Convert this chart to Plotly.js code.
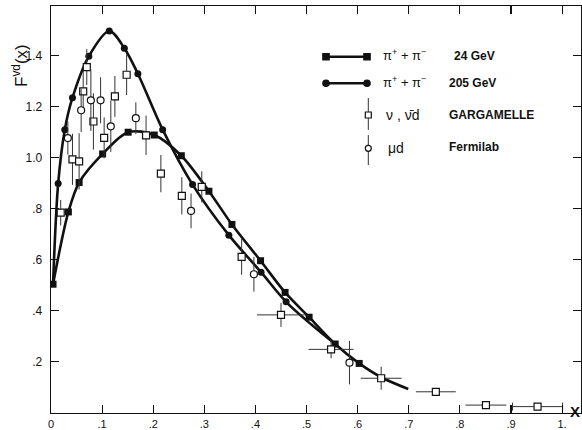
<!DOCTYPE html>
<html>
<head>
<meta charset="utf-8">
<script src="https://cdn.plot.ly/plotly-3.0.1.min.js"></script>
<style>html,body{margin:0;padding:0;background:#fff;}#chart{width:582px;height:430px;}</style>
</head>
<body>
<div id="chart"></div>
<script>
// ---- data ----
// pi+ + pi-  24 GeV (filled squares) : markers
const m24x = [0.004, 0.034, 0.055, 0.101, 0.151, 0.202, 0.255, 0.309, 0.354, 0.410, 0.458, 0.505, 0.556, 0.603];
const m24y = [0.504, 0.787, 0.902, 1.014, 1.099, 1.088, 1.007, 0.868, 0.738, 0.596, 0.472, 0.375, 0.270, 0.194];
// hand-drawn curve through the 24 GeV points
const c24x = [0.004, 0.034, 0.055, 0.101, 0.151, 0.202, 0.255, 0.309, 0.354, 0.410, 0.458, 0.505, 0.556, 0.603, 0.646, 0.699];
const c24y = [0.504, 0.787, 0.902, 1.014, 1.099, 1.088, 1.007, 0.868, 0.738, 0.596, 0.472, 0.375, 0.270, 0.194, 0.140, 0.094];
// pi+ + pi-  205 GeV (filled circles)
const m205x = [0.014, 0.027, 0.042, 0.074, 0.114, 0.1435, 0.170, 0.2185, 0.277, 0.348, 0.411, 0.460];
const m205y = [0.898, 1.109, 1.234, 1.396, 1.495, 1.428, 1.328, 1.109, 0.894, 0.696, 0.551, 0.435];
const c205x = [0.004, 0.014, 0.027, 0.042, 0.074, 0.114, 0.1435, 0.170, 0.2185, 0.277, 0.348, 0.411, 0.460, 0.510, 0.556];
const c205y = [0.504, 0.898, 1.109, 1.234, 1.396, 1.495, 1.428, 1.328, 1.109, 0.894, 0.696, 0.551, 0.435, 0.345, 0.270];
// nu, nubar d  GARGAMELLE (open squares)
const gx  = [0.019, 0.042, 0.055, 0.063, 0.070, 0.083, 0.104, 0.125, 0.148, 0.186, 0.215, 0.256, 0.295, 0.373, 0.450, 0.548, 0.646, 0.753, 0.851, 0.952];
const gy  = [0.784, 0.993, 0.985, 1.259, 1.354, 1.141, 1.077, 1.239, 1.324, 1.087, 0.937, 0.850, 0.885, 0.611, 0.384, 0.249, 0.136, 0.083, 0.031, 0.025];
const gey = [0.05, 0.10, 0.11, 0.08, 0.07, 0.11, 0.08, 0.08, 0.08, 0.077, 0.073, 0.073, 0.061, 0.07, 0.047, 0.035, 0.045, 0, 0, 0];
const gex = [0, 0, 0, 0, 0, 0, 0, 0, 0, 0, 0, 0, 0, 0, 0.047, 0.044, 0.040, 0.039, 0.040, 0.049];
// mu d  Fermilab (open circles)
const fx  = [0.033, 0.059, 0.078, 0.097, 0.117, 0.166, 0.274, 0.397, 0.584];
const fy  = [1.076, 1.185, 1.224, 1.224, 1.122, 1.154, 0.791, 0.543, 0.197];
const fey = [0.065, 0.085, 0.12, 0.09, 0.10, 0.062, 0.068, 0.068, 0.085];
// tick labels
const xTickVals = [0, 0.1, 0.2, 0.3, 0.4, 0.5, 0.6, 0.7, 0.8, 0.9, 1.0];
const xTickText = ['0', '.1', '.2', '.3', '.4', '.5', '.6', '.7', '.8', '.9', '1.'];
const yTickVals = [0.2, 0.4, 0.6, 0.8, 1.0, 1.2, 1.4];
const yTickText = ['.2', '.4', '.6', '.8', '1.0', '1.2', '1.4'];

const FONT = '"Liberation Sans", Arial, sans-serif';
const INK = '#111';
const ERR = '#333';

const nG = gx.length;
const traces = [
  {x: c24x, y: c24y, mode: 'lines', line: {color: INK, width: 2.6, shape: 'spline', smoothing: 0.9}, hoverinfo: 'skip'},
  {x: c205x, y: c205y, mode: 'lines', line: {color: INK, width: 2.6, shape: 'spline', smoothing: 0.9}, hoverinfo: 'skip'},
  {x: m24x, y: m24y, mode: 'markers', marker: {symbol: 'square', size: 7, color: INK}},
  {x: m205x, y: m205y, mode: 'markers', marker: {symbol: 'circle', size: 7, color: INK}},
  {x: gx.slice(0, nG - 1), y: gy.slice(0, nG - 1), mode: 'markers',
   marker: {symbol: 'square', size: 7, color: '#fff', line: {color: INK, width: 1.2}},
   error_y: {type: 'data', array: gey.slice(0, nG - 1), visible: true, color: ERR, thickness: 1, width: 0},
   error_x: {type: 'data', array: gex.slice(0, nG - 1), visible: true, color: ERR, thickness: 1, width: 0}},
  {x: gx.slice(nG - 1), y: gy.slice(nG - 1), mode: 'markers',
   marker: {symbol: 'square', size: 7, color: '#fff', line: {color: INK, width: 1.2}},
   error_x: {type: 'data', array: gex.slice(nG - 1), visible: true, color: ERR, thickness: 1, width: 4}},
  {x: fx, y: fy, mode: 'markers',
   marker: {symbol: 'circle', size: 7, color: '#fff', line: {color: INK, width: 1.2}},
   error_y: {type: 'data', array: fey, visible: true, color: ERR, thickness: 1, width: 0}}
];

// pixel -> paper helpers for the hand-made legend (plot area 51..581 x 6..413)
const L = 51, R = 1, T = 6, B = 17, W = 582 - L - R, H = 430 - T - B;
const P = px => (px - L) / W;
const Q = py => (430 - B - py) / H;

const shapes = [];
const annotations = [];
function hline(x0, x1, y, w) { shapes.push({type: 'line', xref: 'paper', yref: 'paper', x0: P(x0), x1: P(x1), y0: Q(y), y1: Q(y), line: {color: INK, width: w}}); }
function vline(x, y0, y1, w) { shapes.push({type: 'line', xref: 'paper', yref: 'paper', x0: P(x), x1: P(x), y0: Q(y0), y1: Q(y1), line: {color: ERR, width: w}}); }
function sq(x, y, s, fill) { shapes.push({type: 'rect', xref: 'paper', yref: 'paper', x0: P(x - s), x1: P(x + s), y0: Q(y + s), y1: Q(y - s), fillcolor: fill, line: {color: INK, width: 1.2}}); }
function ci(x, y, s, fill) { shapes.push({type: 'circle', xref: 'paper', yref: 'paper', x0: P(x - s), x1: P(x + s), y0: Q(y + s), y1: Q(y - s), fillcolor: fill, line: {color: INK, width: 1.2}}); }
function txt(x, y, t, size) { annotations.push({xref: 'paper', yref: 'paper', x: P(x), y: Q(y), text: t, showarrow: false, xanchor: 'left', yanchor: 'middle', font: {family: FONT, size: size || 13, color: INK}}); }

hline(325, 368, 56.7, 2.4); sq(326, 56.7, 3.2, INK); sq(367, 56.7, 3.2, INK);
hline(325, 368, 83.3, 2.4); ci(326, 83.3, 3.2, INK); ci(367, 83.3, 3.2, INK);
vline(368.3, 98, 130, 1); sq(368.3, 115, 3, '#fff');
vline(368.3, 135, 165, 1); ci(368.3, 148.3, 3, '#fff');
txt(381, 55, 'π<sup>+</sup> + π<sup>−</sup>', 13);
txt(452, 56, '<b>24 GeV</b>', 12);
txt(381, 82, 'π<sup>+</sup> + π<sup>−</sup>', 13);
txt(447, 82.5, '<b>205 GeV</b>', 12);
txt(384, 115, 'ν , ν\u0304d', 14);
txt(447, 115, '<b>GARGAMELLE</b>', 12);
txt(386, 148, 'μd', 14);
txt(447, 147, '<b>Fermilab</b>', 12);

annotations.push({xref: 'paper', yref: 'paper', x: P(20), y: Q(66), text: 'F<sup>vd</sup>(x)', textangle: -90, showarrow: false,
  xanchor: 'center', yanchor: 'middle', font: {family: FONT, size: 17, color: INK}});
annotations.push({xref: 'paper', yref: 'paper', x: P(575), y: Q(411), text: '<b>X</b>', showarrow: false,
  xanchor: 'center', yanchor: 'middle', font: {family: FONT, size: 15, color: INK}});

const axisCommon = {
  showgrid: false, zeroline: false, showline: true, linecolor: INK, linewidth: 1.3,
  mirror: 'ticks', ticks: 'inside', ticklen: 8, tickwidth: 1.1, tickcolor: INK,
  tickfont: {family: FONT, size: 12, color: INK}, fixedrange: true
};

const layout = {
  width: 582, height: 430,
  margin: {l: L, r: R, t: T, b: B, pad: 0},
  paper_bgcolor: '#fff', plot_bgcolor: '#fff',
  showlegend: false,
  xaxis: Object.assign({}, axisCommon, {range: [0, 1.037], tickvals: xTickVals, ticktext: xTickText, ticklabelstandoff: 0,
    tickfont: {family: FONT, size: 11, color: INK}}),
  yaxis: Object.assign({}, axisCommon, {range: [0, 1.593], tickvals: yTickVals, ticktext: yTickText, ticklabelstandoff: 5}),
  shapes: shapes,
  annotations: annotations
};

Plotly.newPlot('chart', traces, layout, {displayModeBar: false, staticPlot: true});
</script>
</body>
</html>
